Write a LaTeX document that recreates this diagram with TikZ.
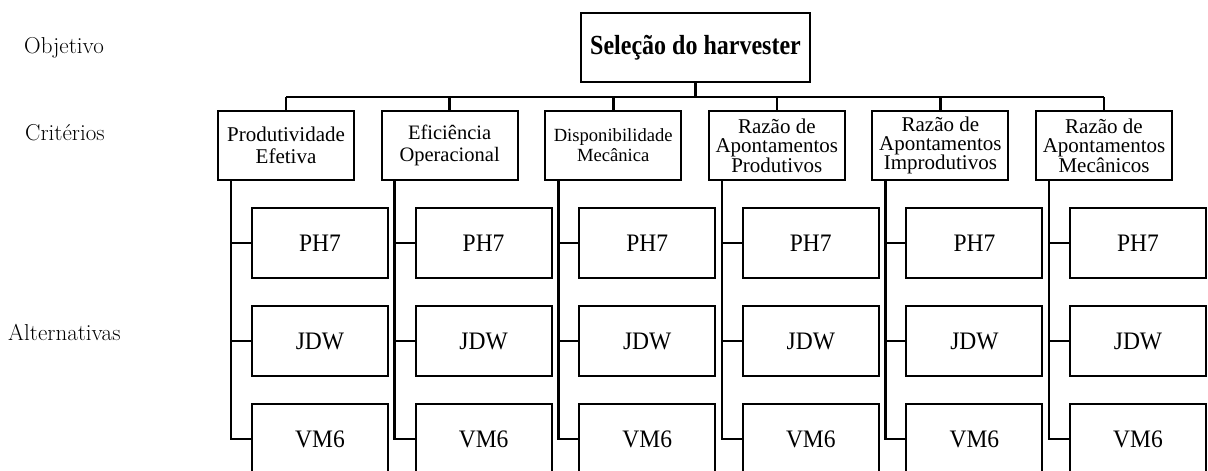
\documentclass[tikz,border=0pt]{standalone}
\usepackage{fontspec}
\usepackage{graphicx}
\newfontfamily\boxfont{Liberation Serif}
\begin{document}
\begin{tikzpicture}[x=1pt,y=-1pt,
  box/.style={draw, line width=2pt, inner sep=0pt, minimum width=136pt,
    minimum height=69pt, align=center, font=\boxfont\fontsize{21}{21.5}\selectfont},
  three/.style={font=\boxfont\fontsize{21}{19.4}\selectfont},
  alt/.style={box, minimum height=70pt, font=\boxfont\fontsize{23.5}{26}\selectfont},
  link/.style={line width=2.6pt},
  level/.style={anchor=base west, inner sep=0pt, font=\fontsize{23}{27}\selectfont}]
\useasboundingbox (0,0) rectangle (1208,471);
\clip (0,0) rectangle (1208,471);

% level labels
\node[level] (lobj) at (24,53) {Objetivo};
\node[level] (lcri) at (25,140) {Critérios};
\node[level] (lalt) at (8,340) {Alternativas};

% goal
\node[box, minimum width=229pt, minimum height=69pt,
  font=\boxfont\bfseries\fontsize{24}{28}\selectfont] (goal) at (695.5,47.5)
  {\scalebox{1}[1.15]{Seleção do harvester}};

% criteria
\node[box] (c1) at (286,145.5) {Produtividade\\Efetiva};
\node[box, font=\boxfont\fontsize{20.5}{21.5}\selectfont] (c2) at (449.6,145.5) {Eficiência\\Operacional};
\node[box, font=\boxfont\fontsize{18.6}{20}\selectfont] (c3) at (613.2,145.5) {Disponibilidade\\Mecânica};
\node[box, three] (c4) at (776.8,145.5) {Razão de\\Apontamentos\\Produtivos};
\node[box, three] (c5) at (940.4,145.5) {Razão de\\Apontamentos\\Improdutivos};
\node[box, three] (c6) at (1104,145.5) {Razão de\\Apontamentos\\Mecânicos};

% bus from goal to criteria
\coordinate (bus) at (695.5,97);
\draw[link] (goal.south) -- (bus);
\draw[link] (c1.north |- bus) -- (c6.north |- bus);
\foreach \i in {1,...,6}
  \draw[link] (c\i.north) -- (c\i.north |- bus);

% alternatives under each criterion
\foreach \i [evaluate=\i as \L using {218+163.6*(\i-1)}] in {1,...,6} {
  \node[alt] (a\i1) at (\L+102,243) {\scalebox{1}[1.07]{PH7}};
  \node[alt] (a\i2) at (\L+102,341) {\scalebox{1}[1.07]{JDW}};
  \node[alt] (a\i3) at (\L+102,439) {\scalebox{1}[1.07]{VM6}};
  \draw[link] ([xshift=14pt]c\i.south west) |- (a\i3.west);
  \draw[link] ([xshift=14pt]c\i.south west |- a\i1.west) -- (a\i1.west);
  \draw[link] ([xshift=14pt]c\i.south west |- a\i2.west) -- (a\i2.west);
}
\end{tikzpicture}
\end{document}
